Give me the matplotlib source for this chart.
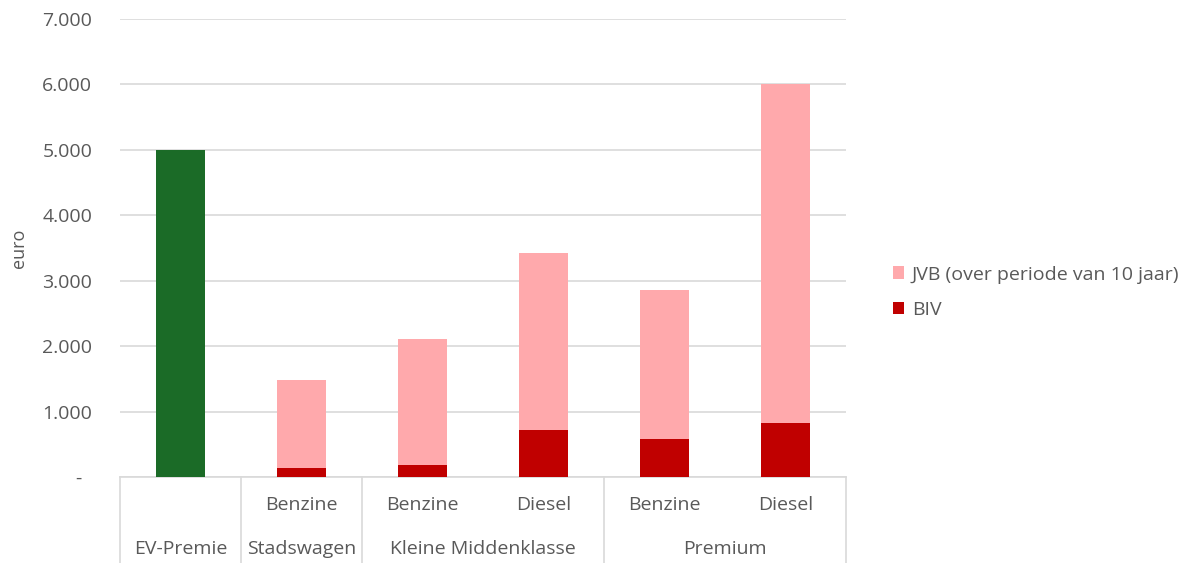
import matplotlib
matplotlib.use("Agg")
import matplotlib.pyplot as plt
from matplotlib.transforms import blended_transform_factory
from matplotlib.ticker import FuncFormatter

plt.rcParams['font.family'] = ['Open Sans', 'DejaVu Sans']

# Data (euro)
categories = ["EV-Premie", "Stadswagen", "Kleine Middenklasse", "Kleine Middenklasse", "Premium", "Premium"]
fuel_labels = ["", "Benzine", "Benzine", "Diesel", "Benzine", "Diesel"]
ev_premie = [5000, 0, 0, 0, 0, 0]
biv = [0, 137, 183, 723, 576, 830]
totaal = [0, 1476, 2109, 3423, 2858, 6000]
jvb = [t - b if t else 0 for t, b in zip(totaal, biv)]

group_names = ["EV-Premie", "Stadswagen", "Kleine Middenklasse", "Premium"]
group_spans = [(0, 0), (1, 1), (2, 3), (4, 5)]

GREEN = "#1b6b27"
RED = "#c00000"
PINK = "#ffa9ac"
TEXT = "#595959"
GRID = "#d9d9d9"

W, H = 1189, 563
fig = plt.figure(figsize=(W / 100, H / 100), dpi=100)
ax = fig.add_axes([120 / W, (H - 477) / H, (846 - 120) / W, (477 - 19) / H])

x = list(range(len(categories)))
bw = 0.4
ax.bar(x[:1], ev_premie[:1], width=bw, color=GREEN, zorder=3)
b1 = ax.bar(x[1:], biv[1:], width=bw, color=RED, zorder=3, label="BIV")
b2 = ax.bar(x[1:], jvb[1:], width=bw, bottom=biv[1:], color=PINK, zorder=3,
            label="JVB (over periode van 10 jaar)")

ax.set_xlim(-0.5, len(categories) - 0.5)
ax.set_ylim(0, 7000)
ax.set_yticks(range(0, 7001, 1000))
ax.yaxis.set_major_formatter(FuncFormatter(
    lambda v, p: "-  " if v == 0 else f"{int(v):,}".replace(",", ".")))
ax.tick_params(axis="y", length=0, pad=20, labelsize=14, labelcolor=TEXT)
ax.set_xticks([])
ax.grid(axis="y", color=GRID, linewidth=1.2, zorder=0)
for s in ["top", "right", "left"]:
    ax.spines[s].set_visible(False)
ax.spines["bottom"].set_color(GRID)
ax.spines["bottom"].set_linewidth(1.2)
ax.set_ylabel("euro", fontsize=13, color=TEXT)
ax.yaxis.set_label_coords(-(120 - 28) / (846 - 120), 0.5)

# Multi-level category axis below the plot
tr = blended_transform_factory(ax.transData, ax.transAxes)
axis_h = 477 - 19
y_bottom = -(H - 477) / axis_h
for xb in [-0.5, 0.5, 1.5, 3.5, 5.5]:
    ax.plot([xb, xb], [0, y_bottom], transform=tr, color=GRID, lw=1.2, clip_on=False)
row1 = -(505 - 477) / axis_h
row2 = -(549 - 477) / axis_h
for xi, lab in zip(x, fuel_labels):
    if lab:
        ax.text(xi, row1, lab, transform=tr, ha="center", va="center",
                fontsize=14, color=TEXT)
for name, (a, b) in zip(group_names, group_spans):
    ax.text((a + b) / 2, row2, name, transform=tr, ha="center", va="center",
            fontsize=14, color=TEXT)

leg = fig.legend(handles=[b2, b1], loc="upper left",
                 bbox_to_anchor=(875 / W, 1 - 248 / H), frameon=False,
                 fontsize=14, labelcolor=TEXT, handlelength=0.6, handleheight=0.6,
                 handletextpad=0.4, labelspacing=0.9)

fig.savefig("out.png", dpi=100)
